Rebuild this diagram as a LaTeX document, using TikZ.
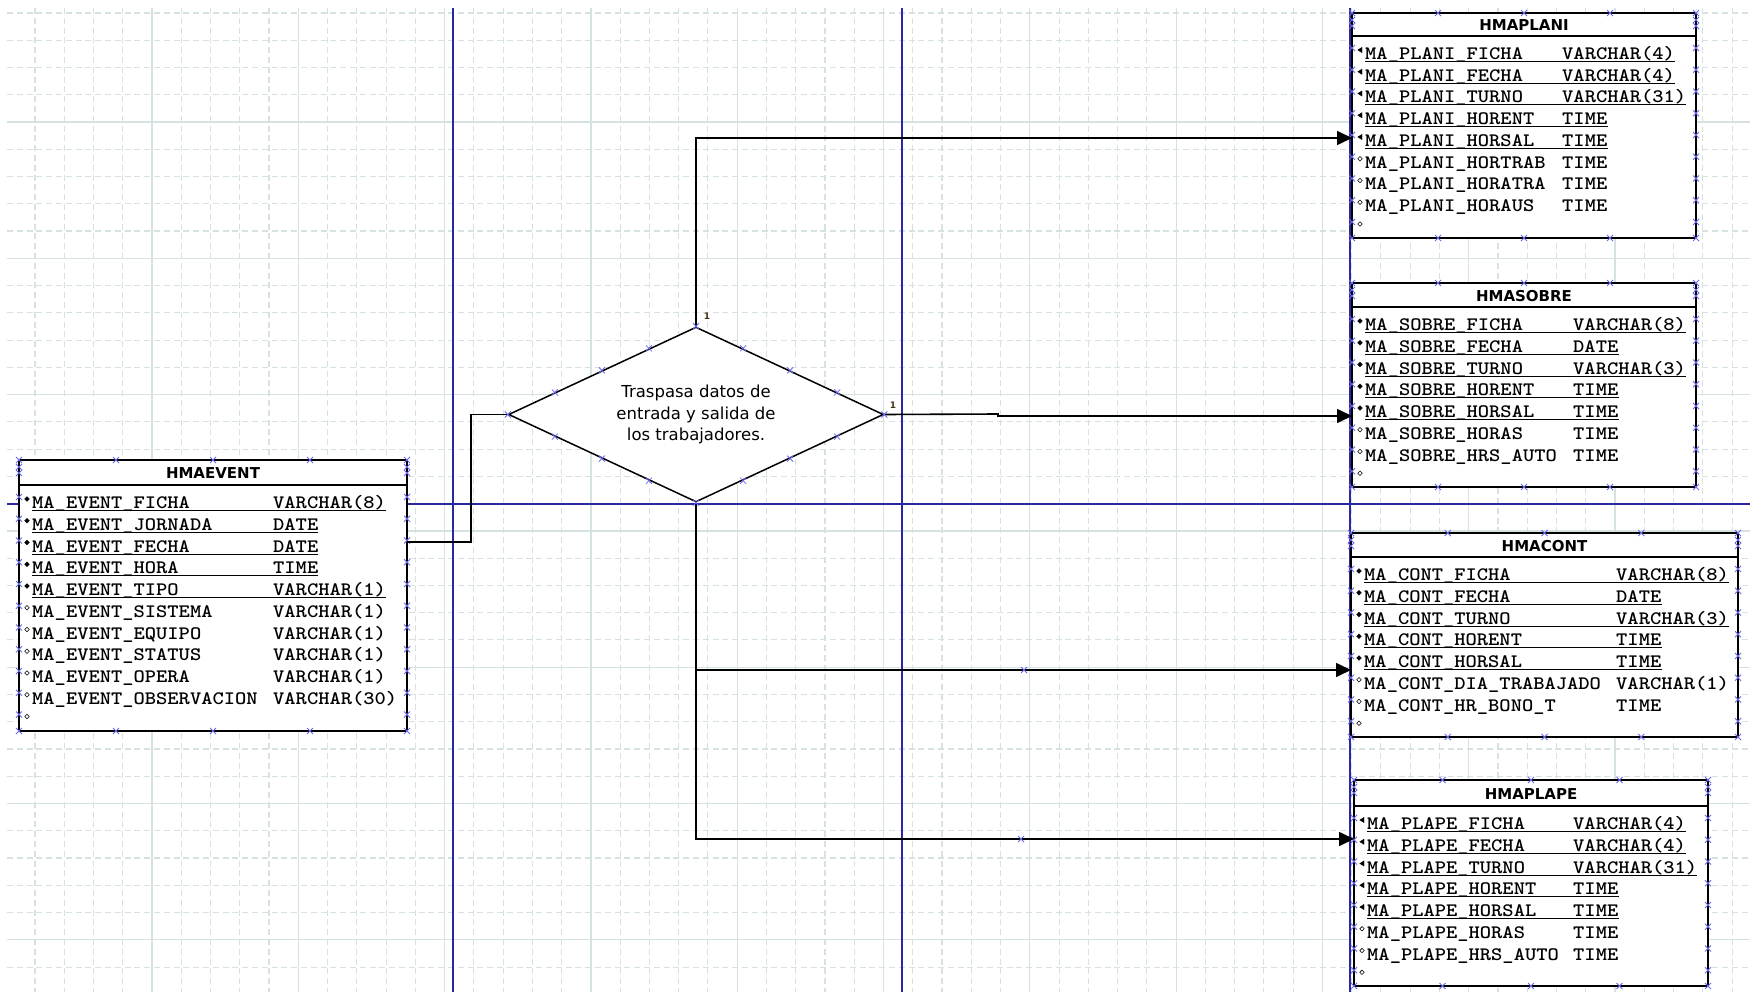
\documentclass[tikz,border=0pt]{standalone}
\usepackage{fontspec}
\usetikzlibrary{shapes.geometric,arrows.meta,calc}
\newfontfamily\monof[FakeStretch=1.13]{lmmonolt10-bold.otf}
\newfontfamily\sansf{DejaVu Sans}
\definecolor{gridc}{RGB}{214,226,226}
\definecolor{guide}{RGB}{40,40,160}
\definecolor{handle}{RGB}{105,105,235}
\definecolor{lblc}{RGB}{70,50,25}
\tikzset{
  gmaj/.style={draw=gridc, line width=1.2pt},
  gmin/.style={draw=gridc, line width=1.1pt, dash pattern=on 6pt off 3.8pt},
  guideline/.style={draw=guide, line width=2pt},
  conn/.style={draw=black, line width=1.6pt},
  arr/.style={-{Triangle[length=15pt,width=14pt]}},
  tbl/.style={draw=black, fill=white, line width=1.5pt, rectangle, inner sep=0pt, outer sep=0pt, anchor=north west},
  sepline/.style={draw=black, line width=1.5pt},
  ttl/.style={font=\sansf\bfseries\fontsize{15}{18}\selectfont, inner sep=0pt},
  fld/.style={font=\monof\fontsize{19}{22}\selectfont, inner sep=0pt, anchor=base west},
  uline/.style={draw=black, line width=1pt},
  hnd/.style={draw=handle, line width=0.8pt},
  keym/.style={fill=black, draw=black, line width=0.4pt},
  nkm/.style={fill=white, draw=black, line width=0.6pt},
  lbl/.style={font=\sansf\bfseries\fontsize{9}{10}\selectfont, text=lblc, inner sep=0pt},
  relshape/.style={diamond, draw=black, fill=white, line width=1.5pt, minimum width=375pt, minimum height=175pt, aspect=2.14, inner sep=0pt, font=\sansf\fontsize{16.5}{21.5}\selectfont, align=center},
}
\newcommand\hxc[1]{\draw[hnd] (#1) +(-3,-3) -- +(3,3) +(-3,3) -- +(3,-3);}
\newcommand\hx[2]{\hxc{{#1},{#2}}}
% #1 name, #2 L, #3 T, #4 R, #5 B, #6 header line y, #7 type column x, #8 title, #9 rows
\newcommand\ertable[9]{%
  \node[tbl, minimum width={#4-#2}, minimum height={#5-#3}] (#1) at (#2,#3) {};
  \draw[sepline] (#2,#6) -- (#4,#6);
  \node[ttl] (#1-title) at ({(#2+#4)/2},{(#3+#6)/2+1}) {#8};
  \foreach \fr in {0,0.25,0.5,0.75,1}{\hx{#2+(#4-#2)*\fr}{#3}\hx{#2+(#4-#2)*\fr}{#5}}
  \foreach \yy in {#3+7,#3+13}{\hx{#2}{\yy}\hx{#4}{\yy}}
  \foreach \rk/\rn/\rt [count=\ri from 0] in {#9}{%
    \pgfmathsetmacro\rc{#6+18+21.75*\ri}
    \pgfmathsetmacro\bl{\rc+5.5}
    \pgfmathsetmacro\my{\rc-4}
    \hx{#2}{\rc-6}\hx{#4}{\rc-6}
    \ifnum\rk=1 \path[keym] ({#2+8},\my) +(0,-2.4) -- +(2.4,0) -- +(0,2.4) -- +(-2.4,0) -- cycle; \fi
    \ifnum\rk=2 \path[keym] ({#2+8},\my) +(2,-2.6) -- +(2,2.6) -- +(-2.2,0) -- cycle; \fi
    \ifnum\rk=0 \path[nkm] ({#2+8},\my) +(0,-2.2) -- +(2.2,0) -- +(0,2.2) -- +(-2.2,0) -- cycle; \fi
    \ifnum\rk=3 \path[nkm] ({#2+8},\my) +(0,-2.2) -- +(2.2,0) -- +(0,2.2) -- +(-2.2,0) -- cycle; \fi
    \ifnum\rk<3
      \node[fld] (#1-n\ri) at ({#2+13},\bl) {\rn};
      \node[fld] (#1-t\ri) at (#7,\bl) {\rt};
    \fi
    \ifnum\rk>0 \ifnum\rk<3 \draw[uline] ({#2+13},\bl+2) -- ($(#1-t\ri.base east)+(0,2)$); \fi\fi
  }%
}
\begin{document}
\begin{tikzpicture}[x=1pt,y=-1pt]
\useasboundingbox (0,0) rectangle (1750,992);
\fill[white] (0,0) rectangle (1750,992);
% grid
\foreach \k in {1,...,59}{
  \pgfmathsetmacro\gx{5.7+29.26*\k}
  \pgfmathtruncatemacro\mm{mod(\k,5)}
  \ifnum\mm=0 \draw[gmaj] (\gx,8) -- (\gx,992); \else \draw[gmin] (\gx,8) -- (\gx,992); \fi
}
\foreach \j in {1,...,36}{
  \pgfmathsetmacro\gy{-14.3+27.26*\j}
  \pgfmathtruncatemacro\mm{mod(\j,5)}
  \ifnum\mm=0 \draw[gmaj] (7,\gy) -- (1750,\gy); \else \draw[gmin] (7,\gy) -- (1750,\gy); \fi
}
% guide lines
\draw[guideline] (453,8) -- (453,992);
\draw[guideline] (902,8) -- (902,992);
\draw[guideline] (1350,8) -- (1350,992);
\draw[guideline] (7,504) -- (1750,504);

% tables
\ertable{ev}{19}{460}{407}{731}{485}{273}{HMAEVENT}{%
1/MA\_EVENT\_FICHA/VARCHAR(8),
1/MA\_EVENT\_JORNADA/DATE,
1/MA\_EVENT\_FECHA/DATE,
1/MA\_EVENT\_HORA/TIME,
1/MA\_EVENT\_TIPO/VARCHAR(1),
0/MA\_EVENT\_SISTEMA/VARCHAR(1),
0/MA\_EVENT\_EQUIPO/VARCHAR(1),
0/MA\_EVENT\_STATUS/VARCHAR(1),
0/MA\_EVENT\_OPERA/VARCHAR(1),
0/MA\_EVENT\_OBSERVACION/VARCHAR(30),
3/x/x}
\ertable{pl}{1352}{13}{1696}{238}{36}{1562}{HMAPLANI}{%
2/MA\_PLANI\_FICHA/VARCHAR(4),
2/MA\_PLANI\_FECHA/VARCHAR(4),
2/MA\_PLANI\_TURNO/VARCHAR(31),
2/MA\_PLANI\_HORENT/TIME,
2/MA\_PLANI\_HORSAL/TIME,
0/MA\_PLANI\_HORTRAB/TIME,
0/MA\_PLANI\_HORATRA/TIME,
0/MA\_PLANI\_HORAUS/TIME,
3/x/x}
\ertable{so}{1352}{283}{1696}{487}{307}{1573}{HMASOBRE}{%
1/MA\_SOBRE\_FICHA/VARCHAR(8),
1/MA\_SOBRE\_FECHA/DATE,
1/MA\_SOBRE\_TURNO/VARCHAR(3),
1/MA\_SOBRE\_HORENT/TIME,
1/MA\_SOBRE\_HORSAL/TIME,
0/MA\_SOBRE\_HORAS/TIME,
0/MA\_SOBRE\_HRS\_AUTO/TIME,
3/x/x}
\ertable{ct}{1351}{533}{1738}{737}{557}{1616}{HMACONT}{%
1/MA\_CONT\_FICHA/VARCHAR(8),
1/MA\_CONT\_FECHA/DATE,
1/MA\_CONT\_TURNO/VARCHAR(3),
1/MA\_CONT\_HORENT/TIME,
1/MA\_CONT\_HORSAL/TIME,
0/MA\_CONT\_DIA\_TRABAJADO/VARCHAR(1),
0/MA\_CONT\_HR\_BONO\_T/TIME,
3/x/x}
\ertable{pp}{1354}{780}{1708}{986}{806}{1573}{HMAPLAPE}{%
2/MA\_PLAPE\_FICHA/VARCHAR(4),
2/MA\_PLAPE\_FECHA/VARCHAR(4),
2/MA\_PLAPE\_TURNO/VARCHAR(31),
2/MA\_PLAPE\_HORENT/TIME,
2/MA\_PLAPE\_HORSAL/TIME,
0/MA\_PLAPE\_HORAS/TIME,
0/MA\_PLAPE\_HRS\_AUTO/TIME,
3/x/x}

% relationship diamond
\node[relshape] (rel) at (696,414.5) {Traspasa datos de\\entrada y salida de\\los trabajadores.};
\node[lbl] (one1) at (707,316) {1};
\node[lbl] (one2) at (893,405) {1};

% connectors
\coordinate (p1) at (471,542);
\coordinate (p2) at (0,138);
\coordinate (p3) at (998,414);
\coordinate (p3b) at (998,416);
\coordinate (p4) at (0,670);
\coordinate (p5) at (0,839);
\draw[conn] (ev.east |- p1) -- (p1) |- (rel.west);
\draw[conn,arr] (rel.north) |- (pl.west |- p2);
\draw[conn,arr] (rel.east) -- (p3) -- (p3b) -- (so.west |- p3b);
\draw[conn,arr] (rel.south |- p4) -- (ct.west |- p4);
\draw[conn,arr] (rel.south) |- (pp.west |- p5);

% selection handles
\foreach \a/\b in {north/east,east/south,south/west,west/north}{
  \foreach \fr in {0,0.25,0.5,0.75}{
    \coordinate (hh) at ($(rel.\a)!\fr!(rel.\b)$);
    \hxc{hh}
  }
}
\hx{1024}{670}
\hx{1021}{839}
\end{tikzpicture}
\end{document}
